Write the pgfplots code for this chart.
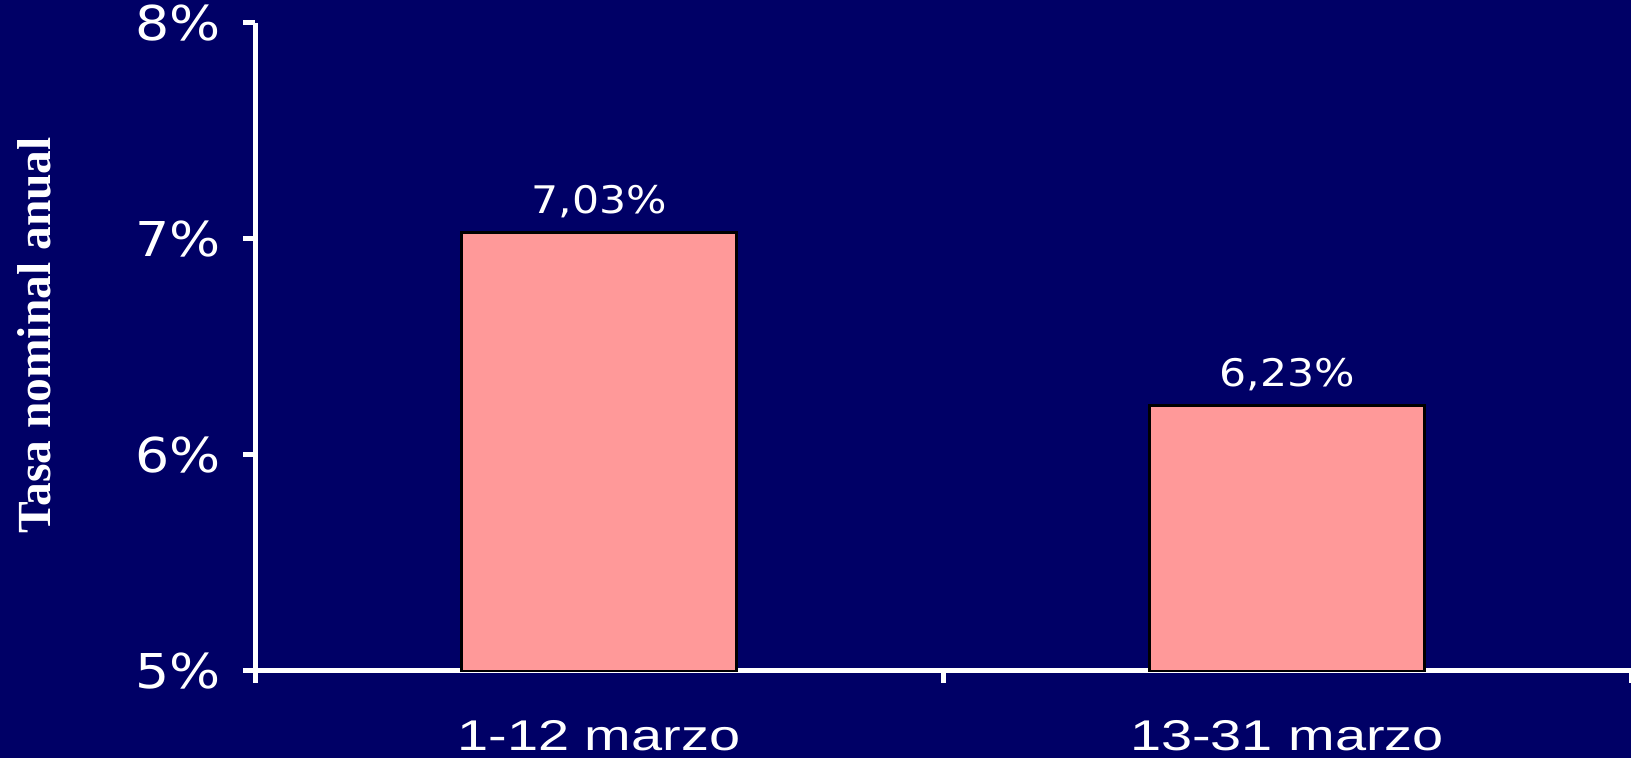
\documentclass[border=0pt]{standalone}
\usepackage{pgfplots}
\pgfplotsset{compat=1.18}
\usepackage{fontspec}
\setmainfont{Liberation Sans}
\newfontfamily\numfont[FakeStretch=1.12]{DejaVu Sans}
\newfontfamily\ticfont[FakeStretch=1.12]{DejaVu Sans}
\newfontfamily\catfont[FakeStretch=1.3]{Liberation Sans}
\newfontfamily\serifbold[BoldFont={Liberation Serif Bold}]{Liberation Serif}
\definecolor{bgnavy}{RGB}{0,0,102}
\definecolor{barpink}{RGB}{255,153,153}
\begin{document}
\begin{tikzpicture}
\path[use as bounding box] (0,0) rectangle (815.5pt,379pt);
\fill[bgnavy] (0,0) rectangle (815.5pt,379pt);
\begin{axis}[
  at={(127.5pt,43.5pt)}, anchor=south west,
  scale only axis, width=688pt, height=324pt,
  xmin=-0.5, xmax=1.5, ymin=5, ymax=8,
  axis lines*=left,
  axis line style={white, line width=2.5pt},
  clip=false,
  /pgf/number format/assume math mode=true,
  ytick={5,6,7,8},
  yticklabels={5\%,6\%,7\%,8\%},
  yticklabel style={font=\ticfont\fontsize{24}{24}\selectfont, text=white, anchor=east, inner sep=0pt, xshift=-11pt},
  tick style={white, line width=2.5pt},
  major tick length=6pt,
  tick align=outside,
  xtick={-0.5,0.5,1.5},
  xticklabels={},
  extra x ticks={0,1},
  extra x tick labels={1-12 marzo,13-31 marzo},
  extra x tick style={major tick length=0pt, tick style={draw=none},
    xticklabel style={font=\catfont\fontsize{21.5}{21.5}\selectfont, text=white, anchor=center, inner sep=0pt, yshift=-32.5pt}},
  ybar, bar width=137.5pt,
  nodes near coords={\pgfmathprintnumber[fixed,precision=2,fixed zerofill,use comma]{\pgfplotspointmeta}\%},
  every node near coord/.append style={font=\numfont\fontsize{19}{19}\selectfont, text=white, anchor=center, yshift=15.5pt},
]
\addplot[fill=barpink, draw=black, line width=1.2pt] coordinates {(0,7.03) (1,6.23)};
\end{axis}
\node[rotate=90, text=white, font=\serifbold\bfseries\fontsize{23.75}{24}\selectfont] at (17pt,211.25pt) {Tasa nominal anual};
\end{tikzpicture}
\end{document}
